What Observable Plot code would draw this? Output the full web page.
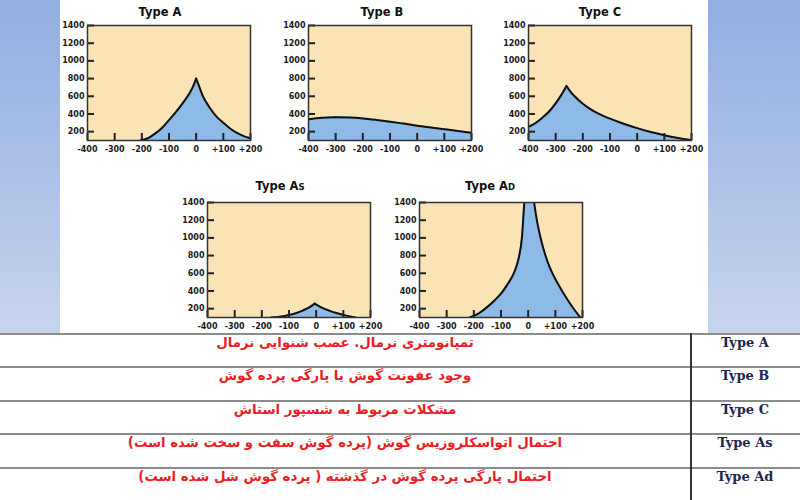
<!DOCTYPE html>
<html><head><meta charset="utf-8">
<script src="https://cdn.jsdelivr.net/npm/d3@7"></script>
<script src="https://cdn.jsdelivr.net/npm/@observablehq/plot@0.6"></script>
<style>
body{margin:0;background:#fff;}
#root{position:relative;width:800px;height:500px;overflow:hidden;background:#fff;}
.strip{position:absolute;top:0;height:333px;background:linear-gradient(#90aee0,#c6d4ee);}
.title{position:absolute;font:bold 11.5px "DejaVu Sans",sans-serif;color:#111;transform:translate(-50%,-50%);white-space:nowrap;}
.hline{position:absolute;left:0;width:800px;height:2px;background:#8c8c8c;}
.vline{position:absolute;left:690px;top:333px;width:1.5px;height:167px;background:#333;}
.desc{position:absolute;direction:rtl;color:#ee1c25;font:bold 13.3px "DejaVu Sans",sans-serif;transform:translate(-50%,-50%);white-space:nowrap;}
.lab{position:absolute;font:bold 13px "DejaVu Serif",serif;color:#1d2553;transform:translate(-50%,-50%);white-space:nowrap;}
.chart{position:absolute;}
</style>
</head><body><div id="root"></div>
<script>
// ---- data ----
const pressureTicks = [-400, -300, -200, -100, 0, 100, 200];
const complianceTicks = [200, 400, 600, 800, 1000, 1200, 1400];

const typeA_p = [-205,-175,-150,-125,-100,-75,-50,-25,-10,0,10,25,50,75,100,125,150,175,200];
const typeA_c = [100,130,180,245,330,420,520,630,720,800,720,600,470,370,300,235,185,150,125];

const typeB_p = [-400,-350,-300,-250,-200,-150,-100,-50,0,50,100,150,200];
const typeB_c = [340,356,362,360,350,333,313,291,268,247,227,207,188];

const typeC_p = [-400,-375,-350,-325,-300,-280,-260,-245,-230,-215,-200,-175,-150,-125,-100,-50,0,50,100,150,200];
const typeC_c = [255,295,355,425,520,610,715,650,600,555,515,460,415,378,347,290,240,197,160,128,105];

const typeAs_p = [-165,-140,-115,-100,-75,-50,-25,-5,10,25,50,75,100,125,145];
const typeAs_c = [100,106,118,128,148,178,215,257,228,205,175,150,130,112,100];

const typeAd_p = [-215,-180,-150,-125,-100,-75,-50,-35,-23,-14,0,10,22,32,45,56,75,99,120,142,165,192];
const typeAd_c = [100,150,220,290,370,480,620,770,1000,1400,1700,1700,1400,1200,1010,880,700,540,425,315,210,100];

const chartTitles = ["Type A", "Type B", "Type C", "Type A<span style='font-size:8.5px'>S</span>", "Type A<span style='font-size:8.5px'>D</span>"];
const rowLabels = ["Type A", "Type B", "Type C", "Type As", "Type Ad"];
const rowTexts = [
  "تمپانومتری نرمال. عصب شنوایی نرمال",
  "وجود عفونت گوش یا پارگی پرده گوش",
  "مشکلات مربوط به شسپور استاش",
  "احتمال اتواسکلروزیس گوش (پرده گوش سفت و سخت شده است)",
  "احتمال پارگی پرده گوش در گذشته ( پرده گوش شل شده است)"
];

// ---- layout ----
const root = document.getElementById("root");
const beige = "#fae3b5", blue = "#8dbae7";
const W = 163, H = 115, mL = 32, mR = 14, mT = 6, mB = 22;

function add(cls, style, html) {
  const d = document.createElement("div");
  d.className = cls;
  Object.assign(d.style, style);
  if (html != null) d.innerHTML = html;
  root.appendChild(d);
  return d;
}
add("strip", {left: "0px", width: "60px"});
add("strip", {left: "708px", width: "92px"});

function chart(p, c) {
  // split each curve at its peak so the cusp stays sharp
  const k = c.indexOf(d3.max(c));
  const data = [];
  p.forEach((x, i) => {
    if (i <= k) data.push({p: x, c: c[i], side: "L"});
    if (i >= k) data.push({p: x, c: c[i], side: "R"});
  });
  const fmtX = d => d > 0 ? "+" + d : String(d);
  const fmtY = d => String(d);
  return Plot.plot({
    width: W + mL + mR, height: H + mT + mB,
    marginLeft: mL, marginRight: mR, marginTop: mT, marginBottom: mB,
    style: {background: "transparent", fontFamily: "DejaVu Sans", fontWeight: "bold", fontSize: "8px", color: "#1a1a1a", overflow: "visible"},
    x: {domain: [-400, 200], label: null},
    y: {domain: [100, 1400], label: null},
    marks: [
      Plot.frame({fill: beige}),
      Plot.areaY(data, {x: "p", y1: 0, y2: "c", z: "side", fill: blue, stroke: blue, strokeWidth: 1, curve: "monotone-x", clip: true}),
      Plot.lineY(data, {x: "p", y: "c", z: "side", stroke: "#111", strokeWidth: 2, curve: "monotone-x", clip: true}),
      Plot.tickX(pressureTicks, {x: d => d, stroke: "#222", strokeWidth: 2, insetTop: H - 7}),
      Plot.tickY(complianceTicks, {y: d => d, stroke: "#222", strokeWidth: 2, insetRight: W - 7}),
      Plot.axisX(pressureTicks, {tickSize: 0, tickPadding: 6, tickFormat: fmtX}),
      Plot.axisY(complianceTicks, {tickSize: 0, tickPadding: 3, tickFormat: fmtY}),
      Plot.frame({stroke: "#333", strokeWidth: 1.5})
    ]
  });
}

const specs = [
  {p: typeA_p, c: typeA_c, fx: 87, fy: 25, tx: 160, ty: 12},
  {p: typeB_p, c: typeB_c, fx: 308, fy: 25, tx: 382, ty: 12},
  {p: typeC_p, c: typeC_c, fx: 528, fy: 25, tx: 600, ty: 12},
  {p: typeAs_p, c: typeAs_c, fx: 207, fy: 202, tx: 280, ty: 186},
  {p: typeAd_p, c: typeAd_c, fx: 419, fy: 202, tx: 490, ty: 186}
];
specs.forEach((s, i) => {
  const el = chart(s.p, s.c);
  const wrap = add("chart", {left: (s.fx - mL) + "px", top: (s.fy - mT) + "px"});
  wrap.appendChild(el);
  add("title", {left: s.tx + "px", top: s.ty + "px"}, chartTitles[i]);
});

// ---- table ----
const lineYs = [333, 366, 400, 433, 467];
lineYs.forEach(y => add("hline", {top: y + "px"}));
add("vline", {});
rowTexts.forEach((t, i) => {
  const d = add("desc", {left: "345px", top: (lineYs[i] + 9) + "px"});
  d.textContent = t;
  const l = add("lab", {left: "745px", top: (lineYs[i] + 9) + "px"});
  l.textContent = rowLabels[i];
});
</script>
</body></html>
